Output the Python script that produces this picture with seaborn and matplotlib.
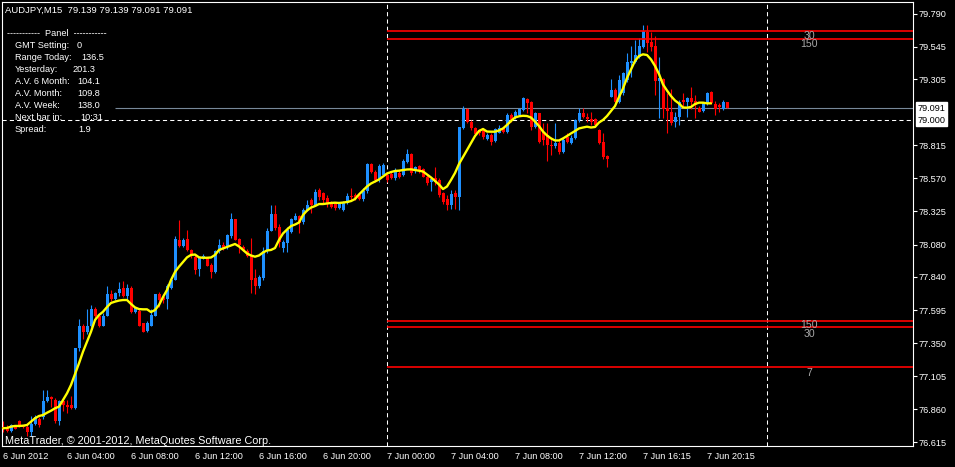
import matplotlib
matplotlib.use("Agg")
import matplotlib.pyplot as plt
import matplotlib.transforms as mtransforms
import numpy as np
import seaborn as sns

# AUDJPY M15 candles (6 Jun 2012 00:00 -> 7 Jun 2012 ~20:45), one row per bar
opens = [
    76.73, 76.72, 76.70, 76.73, 76.77, 76.735, 76.73, 76.69, 76.75, 76.79,
    76.80, 76.92, 76.95, 76.93, 76.77, 76.92, 76.89, 76.89, 76.87, 77.31,
    77.48, 77.43, 77.48, 77.60, 77.55, 77.48, 77.55, 77.71, 77.68, 77.72,
    77.76, 77.70, 77.76, 77.58, 77.59, 77.50, 77.44, 77.48, 77.55, 77.71,
    77.69, 77.68, 77.76, 77.82, 78.11, 78.07, 78.12, 78.04, 77.99, 77.90,
    77.98, 77.98, 77.93, 77.88, 78.03, 78.08, 78.06, 78.14, 78.27, 78.12,
    78.06, 78.035, 78.00, 77.83, 77.77, 77.83, 78.03, 78.18, 78.306, 78.208,
    78.052, 78.094, 78.175, 78.262, 78.29, 78.25, 78.336, 78.41, 78.373, 78.484,
    78.46, 78.425, 78.39, 78.385, 78.35, 78.336, 78.39, 78.44, 78.447, 78.447,
    78.42, 78.476, 78.677, 78.62, 78.563, 78.595, 78.595, 78.60, 78.57, 78.608,
    78.595, 78.694, 78.751, 78.632, 78.662, 78.637, 78.583, 78.546, 78.57, 78.558,
    78.46, 78.415, 78.373, 78.46, 78.434, 78.941, 79.082, 78.99, 78.946, 78.928,
    78.928, 78.86, 78.891, 78.849, 78.909, 78.941, 78.916, 79.04, 79.015, 79.04,
    79.077, 79.156, 79.138, 78.953, 79.052, 78.916, 78.891, 78.817, 78.81, 78.83,
    78.768, 78.879, 78.83, 78.867, 79.0, 79.057, 79.023, 79.008, 79.008, 78.928,
    78.842, 78.736, 79.175, 79.225, 79.138, 79.20, 79.299, 79.422, 79.434, 79.472,
    79.546, 79.657, 79.583, 79.551, 79.294, 79.304, 79.089, 79.064, 78.99, 79.023,
    79.151, 79.138, 79.168, 79.143, 79.089, 79.072, 79.126, 79.212, 79.121, 79.114,
    79.082, 79.139,
]
highs = [
    76.77, 76.74, 76.75, 76.74, 76.78, 76.745, 76.75, 76.81, 76.82, 76.80,
    77.00, 77.00, 76.96, 76.94, 76.93, 76.94, 76.93, 76.96, 77.31, 77.53,
    77.49, 77.60, 77.63, 77.62, 77.56, 77.57, 77.77, 77.74, 77.73, 77.80,
    77.81, 77.79, 77.77, 77.62, 77.60, 77.50, 77.51, 77.60, 77.71, 77.73,
    77.71, 77.79, 77.83, 78.14, 78.26, 78.13, 78.19, 78.05, 78.01, 77.99,
    78.01, 77.99, 77.94, 78.04, 78.12, 78.10, 78.16, 78.31, 78.27, 78.13,
    78.08, 78.045, 78.13, 77.90, 77.855, 78.06, 78.20, 78.37, 78.373, 78.232,
    78.114, 78.208, 78.274, 78.316, 78.30, 78.349, 78.41, 78.422, 78.491, 78.499,
    78.471, 78.447, 78.402, 78.395, 78.388, 78.40, 78.46, 78.497, 78.462, 78.464,
    78.497, 78.682, 78.682, 78.632, 78.677, 78.682, 78.62, 78.617, 78.645, 78.632,
    78.711, 78.786, 78.756, 78.662, 78.669, 78.645, 78.595, 78.583, 78.657, 78.57,
    78.471, 78.447, 78.484, 78.484, 78.953, 79.106, 79.089, 79.003, 78.953, 78.935,
    78.941, 78.904, 78.904, 78.941, 78.966, 78.953, 79.052, 79.057, 79.077, 79.091,
    79.171, 79.163, 79.146, 79.064, 79.057, 78.978, 78.978, 78.879, 78.978, 78.854,
    78.867, 78.904, 78.891, 79.008, 79.089, 79.089, 79.052, 79.064, 79.015, 78.934,
    78.904, 78.743, 79.304, 79.237, 79.336, 79.36, 79.497, 79.551, 79.595, 79.608,
    79.706, 79.706, 79.657, 79.625, 79.471, 79.311, 79.20, 79.23, 79.064, 79.151,
    79.205, 79.175, 79.249, 79.188, 79.106, 79.138, 79.212, 79.22, 79.146, 79.126,
    79.151, 79.139,
]
lows = [
    76.69, 76.69, 76.69, 76.71, 76.73, 76.72, 76.66, 76.66, 76.74, 76.73,
    76.79, 76.91, 76.88, 76.76, 76.74, 76.85, 76.83, 76.86, 76.86, 77.29,
    77.38, 77.42, 77.47, 77.53, 77.47, 77.48, 77.55, 77.66, 77.67, 77.70,
    77.69, 77.68, 77.57, 77.57, 77.48, 77.43, 77.43, 77.48, 77.55, 77.62,
    77.65, 77.60, 77.75, 77.82, 78.06, 78.06, 78.03, 77.98, 77.86, 77.85,
    77.97, 77.92, 77.83, 77.87, 78.02, 78.04, 78.05, 78.13, 78.11, 78.02,
    78.03, 77.99, 77.72, 77.71, 77.756, 77.82, 78.02, 78.18, 78.188, 78.06,
    78.027, 78.027, 78.168, 78.262, 78.163, 78.232, 78.33, 78.31, 78.365, 78.41,
    78.38, 78.36, 78.35, 78.336, 78.343, 78.33, 78.38, 78.41, 78.41, 78.41,
    78.405, 78.46, 78.608, 78.546, 78.546, 78.588, 78.546, 78.565, 78.558, 78.57,
    78.588, 78.686, 78.595, 78.608, 78.608, 78.58, 78.521, 78.479, 78.521, 78.434,
    78.38, 78.336, 78.341, 78.341, 78.336, 78.934, 78.978, 78.928, 78.884, 78.89,
    78.86, 78.854, 78.817, 78.842, 78.904, 78.904, 78.909, 78.99, 79.008, 79.032,
    79.072, 79.052, 78.928, 78.941, 78.83, 78.817, 78.701, 78.743, 78.793, 78.751,
    78.756, 78.83, 78.825, 78.86, 78.99, 79.015, 78.99, 78.966, 78.953, 78.825,
    78.711, 78.652, 79.171, 79.131, 79.131, 79.188, 79.286, 79.323, 79.422, 79.46,
    79.534, 79.509, 79.516, 79.188, 79.015, 79.015, 78.904, 78.966, 78.953, 78.966,
    79.089, 79.027, 79.082, 79.015, 79.059, 79.062, 79.114, 79.12, 79.04, 79.064,
    79.077, 79.091,
]
closes = [
    76.71, 76.70, 76.74, 76.715, 76.73, 76.73, 76.69, 76.75, 76.80, 76.74,
    76.92, 76.95, 76.935, 76.77, 76.92, 76.89, 76.88, 76.87, 77.31, 77.48,
    77.43, 77.48, 77.60, 77.55, 77.48, 77.55, 77.71, 77.68, 77.72, 77.75,
    77.70, 77.76, 77.58, 77.61, 77.48, 77.43, 77.50, 77.56, 77.71, 77.67,
    77.67, 77.77, 77.82, 78.12, 78.07, 78.11, 78.04, 78.00, 77.89, 77.98,
    77.995, 77.92, 77.88, 78.03, 78.08, 78.05, 78.15, 78.27, 78.11, 78.08,
    78.04, 77.995, 77.82, 77.77, 77.837, 78.03, 78.18, 78.306, 78.20, 78.10,
    78.10, 78.188, 78.267, 78.294, 78.242, 78.336, 78.373, 78.373, 78.471, 78.434,
    78.41, 78.38, 78.36, 78.35, 78.38, 78.388, 78.44, 78.43, 78.423, 78.415,
    78.476, 78.677, 78.62, 78.558, 78.662, 78.667, 78.558, 78.575, 78.62, 78.583,
    78.701, 78.751, 78.608, 78.652, 78.632, 78.583, 78.538, 78.563, 78.546, 78.447,
    78.397, 78.373, 78.454, 78.434, 78.953, 79.082, 78.99, 78.941, 78.899, 78.904,
    78.875, 78.891, 78.842, 78.934, 78.941, 78.916, 79.04, 79.003, 79.064, 79.082,
    79.163, 79.126, 78.953, 79.052, 78.842, 78.854, 78.817, 78.81, 78.83, 78.768,
    78.854, 78.842, 78.867, 79.003, 79.057, 79.023, 79.008, 78.99, 78.966, 78.834,
    78.731, 78.711, 79.225, 79.138, 79.299, 79.353, 79.434, 79.442, 79.484, 79.551,
    79.662, 79.575, 79.546, 79.294, 79.311, 79.082, 79.072, 78.978, 79.023, 79.138,
    79.138, 79.168, 79.138, 79.114, 79.064, 79.126, 79.205, 79.126, 79.082, 79.101,
    79.138, 79.091,
]

# yellow moving-average line (ends a few bars early)
ma_line = [
    76.719, 76.721, 76.731, 76.736, 76.736, 76.738, 76.743, 76.768, 76.793, 76.810,
    76.817, 76.834, 76.849, 76.867, 76.879, 76.928, 76.978, 77.040, 77.121, 77.200,
    77.286, 77.360, 77.434, 77.521, 77.558, 77.582, 77.617, 77.647, 77.657, 77.665,
    77.669, 77.669, 77.640, 77.614, 77.602, 77.600, 77.600, 77.580, 77.595, 77.632,
    77.691, 77.743, 77.817, 77.877, 77.916, 77.951, 77.985, 78.003, 78.006, 77.985,
    77.982, 77.982, 77.984, 78.003, 78.040, 78.051, 78.062, 78.073, 78.084, 78.066,
    78.040, 78.014, 77.999, 77.990, 77.999, 78.021, 78.036, 78.040, 78.054, 78.114,
    78.162, 78.191, 78.217, 78.228, 78.243, 78.299, 78.332, 78.354, 78.365, 78.380,
    78.380, 78.384, 78.388, 78.390, 78.388, 78.391, 78.395, 78.402, 78.417, 78.451,
    78.480, 78.510, 78.532, 78.547, 78.562, 78.584, 78.606, 78.617, 78.625, 78.627,
    78.632, 78.636, 78.637, 78.632, 78.627, 78.621, 78.599, 78.577, 78.551, 78.525,
    78.491, 78.510, 78.558, 78.610, 78.677, 78.728, 78.780, 78.832, 78.884, 78.921,
    78.936, 78.917, 78.916, 78.916, 78.925, 78.940, 78.966, 78.995, 79.021, 79.030,
    79.034, 79.032, 79.021, 78.991, 78.958, 78.917, 78.888, 78.866, 78.851, 78.851,
    78.866, 78.884, 78.903, 78.921, 78.940, 78.947, 78.953, 78.947, 78.951, 78.984,
    79.003, 79.032, 79.069, 79.106, 79.173, 79.236, 79.314, 79.377, 79.440, 79.477,
    79.489, 79.484, 79.451, 79.403, 79.343, 79.266, 79.221, 79.180, 79.147, 79.125,
    79.095, 79.094, 79.099, 79.121, 79.131, 79.131, 79.126, 79.126,
]

time_tick_bars = [0, 16, 32, 48, 64, 80, 96, 112, 128, 144, 160, 176]
time_tick_labels = [
    "6 Jun 2012", "6 Jun 04:00", "6 Jun 08:00", "6 Jun 12:00", "6 Jun 16:00",
    "6 Jun 20:00", "7 Jun 00:00", "7 Jun 04:00", "7 Jun 08:00", "7 Jun 12:00",
    "7 Jun 16:15", "7 Jun 20:15",
]
day_separators = [96, 191]

price_ticks = [79.790, 79.545, 79.305, 78.815, 78.570, 78.325, 78.080,
               77.840, 77.595, 77.350, 77.105, 76.860, 76.615]
bid_price = 79.091
level_price = 79.000

range_levels = [79.660, 79.606, 77.516, 77.469, 77.175]
range_texts = ["30", "150", "150", "30", "7"]
range_text_prices = [79.622, 79.562, 77.482, 77.420, 77.131]

chart_title = "AUDJPY,M15  79.139 79.139 79.091 79.091"
panel_header = "-----------  Panel  -----------"
panel_labels = ["GMT Setting:", "Range Today:", "Yesterday:", "A.V. 6 Month:",
                "A.V. Month:", "A.V. Week:", "Next bar in:", "Spread:"]
panel_values = ["0", "136.5", "201.3", "104.1", "109.8", "138.0", "10:31", "1.9"]
copyright_text = "MetaTrader, \u00a9 2001-2012, MetaQuotes Software Corp."

W, H = 955, 467


def fig_xy(px, py):
    return px / W, 1 - py / H


sns.set_style("dark")
plt.rcParams["font.family"] = ["Liberation Sans", "DejaVu Sans"]
FS = 6.6

fig = plt.figure(figsize=(W / 100, H / 100), dpi=100, facecolor="black")
ax = fig.add_axes([2 / W, 21 / H, 911 / W, 444 / H])
ax.set_facecolor("black")
ax.grid(False)

ax.set_xlim(-0.25, 227.5)
ax.set_ylim(76.5876, 79.8767)

x = np.arange(len(closes))
o = np.array(opens)
c = np.array(closes)
bull = c >= o
colors = np.where(bull, "#1E90FF", "#FF0000")

# reference lines behind the candles
ax.hlines(bid_price, 28, 227.5, color="#778899", lw=0.8, zorder=1)
ax.axhline(level_price, color="white", lw=0.75, ls=(0, (4, 3)), zorder=1)
for sep in day_separators:
    ax.axvline(sep, color="white", lw=0.75, ls=(0, (4, 3)), zorder=1)

# candles
ax.vlines(x, lows, highs, colors=colors, lw=0.8, zorder=2)
body_bottom = np.minimum(o, c)
body_height = np.maximum(np.abs(c - o), 0.006)
ax.bar(x, body_height, bottom=body_bottom, width=0.75, color=colors,
       linewidth=0, zorder=3)

# moving average
sns.lineplot(x=np.arange(len(ma_line)), y=ma_line, color="#FFFF00", lw=1.7,
             ax=ax, legend=False, zorder=4)

# daily range levels
ax.hlines(range_levels, 96, 227.5, color="#FF0000", lw=1.2, zorder=5)
for txt, p in zip(range_texts, range_text_prices):
    ax.text(201.5, p, txt, color="#A8A8A8", fontsize=7.6, ha="center",
            va="center", zorder=6)

# axes styling
for sp in ax.spines.values():
    sp.set_color("white")
    sp.set_linewidth(0.8)
    sp.set_visible(True)

ax.yaxis.tick_right()
ax.set_yticks(price_ticks)
ax.set_yticklabels([f"{p:.3f}" for p in price_ticks])
ax.set_xticks(time_tick_bars)
ax.set_xticklabels(time_tick_labels, ha="left")
ax.tick_params(axis="both", colors="white", labelcolor="white", labelsize=FS,
               length=3, width=0.8, direction="out")
ax.tick_params(axis="y", pad=1)
ax.tick_params(axis="x", pad=1.5)
ax.set_xlabel("")
ax.set_ylabel("")

# price boxes on the right scale
box_tr = mtransforms.blended_transform_factory(ax.transAxes, ax.transData)
for p in [bid_price, level_price]:
    ax.text(1.005, p, f"{p:.3f}", transform=box_tr, color="black",
            fontsize=FS, ha="left", va="center", clip_on=False, zorder=7,
            bbox=dict(boxstyle="square,pad=0.15", fc="white", ec="white"))

# texts on the chart
fig.text(*fig_xy(5, 10), chart_title, color="white", fontsize=FS + 0.2,
         ha="left", va="center")
fig.text(*fig_xy(7, 33), panel_header, color="white", fontsize=FS,
         ha="left", va="center")
value_x = [77, 81.5, 72.5, 77, 77, 77, 80, 78]
for k, (lab, val) in enumerate(zip(panel_labels, panel_values)):
    yy = 45 + 12.05 * k
    fig.text(*fig_xy(15, yy), lab, color="white", fontsize=FS,
             ha="left", va="center")
    fig.text(*fig_xy(value_x[k], yy), val, color="white", fontsize=FS,
             ha="left", va="center")
fig.text(*fig_xy(5, 440.5), copyright_text, color="white", fontsize=7.8,
         ha="left", va="center")

fig.savefig("out.png", dpi=100, facecolor="black")
plt.close(fig)
